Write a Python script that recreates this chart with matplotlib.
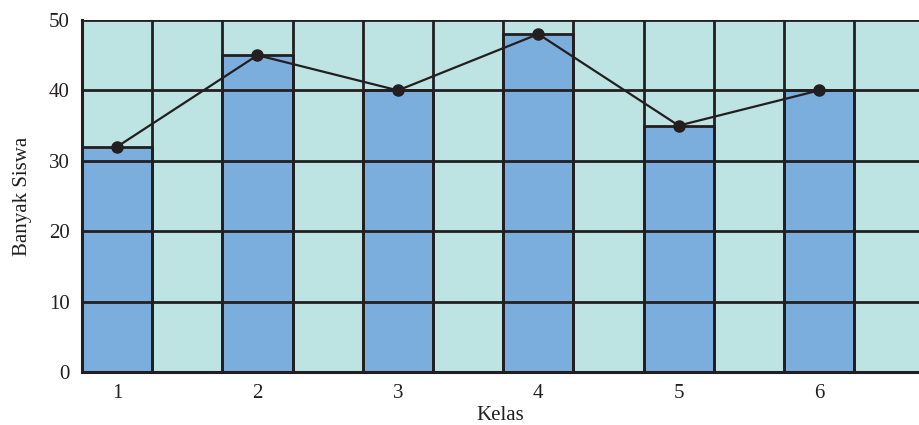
import matplotlib
matplotlib.use("Agg")
import matplotlib.pyplot as plt
import numpy as np

# data
kelas = [1, 2, 3, 4, 5, 6]
siswa = [32, 45, 40, 48, 35, 40]
y_ticks = [0, 10, 20, 30, 40, 50]

BG = "#bde3e3"
BAR = "#7baedd"
INK = "#231f20"

plt.rcParams["font.family"] = ["Liberation Serif", "DejaVu Serif"]

fig = plt.figure(figsize=(9.19, 4.25), dpi=100)
ax = fig.add_axes([82 / 919, 53 / 425, 1 - 82 / 919, (372 - 20) / 425])
ax.set_facecolor(BG)

ax.bar(kelas, siswa, width=0.5, color=BAR, edgecolor=INK, linewidth=2, zorder=2)

# grid drawn over the bars
for xv in np.arange(0.75, 6.8, 0.5):
    ax.axvline(xv, color=INK, linewidth=2, zorder=3)
for yv in y_ticks[1:]:
    ax.axhline(yv, color=INK, linewidth=2, zorder=3)

ax.plot(kelas, siswa, color=INK, linewidth=1.6, marker="o", markersize=8, zorder=4)

ax.set_xlim(0.75, 0.75 + 837 / 140.4)
ax.set_ylim(0, 50)
ax.set_xticks(kelas)
ax.set_yticks(y_ticks)
ax.tick_params(length=0, labelsize=15, colors=INK, pad=9)
for s in ["top", "right"]:
    ax.spines[s].set_visible(False)
for s in ["left", "bottom"]:
    ax.spines[s].set_linewidth(2.2)
    ax.spines[s].set_color(INK)
    ax.spines[s].set_zorder(5)

ax.set_xlabel("Kelas", fontsize=15, color=INK, labelpad=2)
ax.set_ylabel("Banyak Siswa", fontsize=15, color=INK, labelpad=12)

fig.savefig("out.png", dpi=100)
